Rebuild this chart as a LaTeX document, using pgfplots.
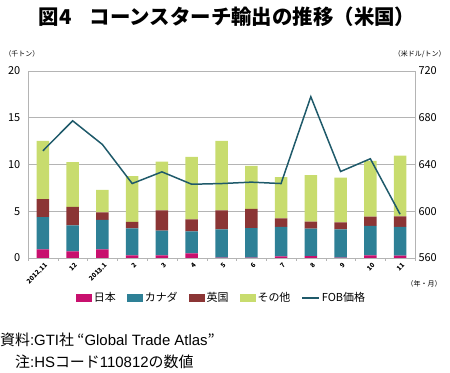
\documentclass[border=0pt]{standalone}
\usepackage{fontspec}
\setmainfont{Noto Sans CJK JP}
\newfontfamily\lib{Liberation Sans}
\usepackage{pgfplots}
\usepackage{pgfplotstable}
\pgfplotsset{compat=1.18}
\definecolor{jpc}{HTML}{C8106E}
\definecolor{cac}{HTML}{2E8096}
\definecolor{ukc}{HTML}{8B3535}
\definecolor{otc}{HTML}{C8DC6E}
\definecolor{fobc}{HTML}{1F5A6A}
\definecolor{gridc}{HTML}{B4B4B4}
\pgfplotstableread{
x jp ca uk ot fob
0 0.93 3.43 1.93 6.25 651.7
1 0.71 2.79 1.96 4.79 677.4
2 0.93 3.14 0.82 2.40 657.1
3 0.29 2.89 0.68 4.89 623.7
4 0.29 2.64 2.17 5.22 633.7
5 0.50 2.36 1.28 6.68 623.1
6 0.04 3.03 2.03 7.44 623.7
7 0.05 3.15 2.05 4.61 624.9
8 0.18 3.14 0.93 4.39 623.7
9 0.20 2.94 0.75 4.97 698.0
10 0.05 3.02 0.75 4.78 634.0
11 0.29 3.14 1.00 5.96 644.9
12 0.25 3.07 1.14 6.50 597.4
}\data
\begin{document}
\begin{tikzpicture}
\useasboundingbox (0bp,0bp) rectangle (450bp,373bp);
\node[font=\fontsize{20.5}{24}\selectfont\bfseries] at (227bp,356bp) {図4\hspace{0.9em}コーンスターチ輸出の推移（米国）};
\node[font=\fontsize{7}{8}\selectfont, anchor=west] at (1bp,319bp) {（千トン）};
\node[font=\fontsize{7}{8}\selectfont, anchor=east] at (449bp,319bp) {（米ドル/トン）};
\node[font=\fontsize{7}{8}\selectfont, anchor=east] at (445bp,89bp) {（年・月）};
\node[font=\fontsize{15}{17}\selectfont, anchor=west, inner sep=0pt] at (0bp,33bp) {資料{\lib:GTI}社 “{\lib Global Trade Atlas}”};
\node[font=\fontsize{15}{17}\selectfont, anchor=west, inner sep=0pt] at (15bp,11bp) {注{\lib:HS}コード{\lib 110812}の数値};
\begin{axis}[
  at={(28bp,115bp)}, anchor=south west,
  scale only axis, width=387bp, height=187bp,
  xmin=-0.5, xmax=12.5, ymin=0, ymax=20,
  ybar stacked, bar width=12.5bp,
  axis x line*=bottom, axis y line*=left,
  axis line style={gridc},
  ytick={0,5,10,15,20},
  ymajorgrids, grid style={gridc, line width=0.6pt},
  xtick={0,...,12},
  xticklabels={2012.11,12,2013.1,2,3,4,5,6,7,8,9,10,11},
  major x tick style={draw=none},
  minor xtick={-0.5,0.5,...,12.5},
  minor x tick style={gridc},
  minor tick length=3bp,
  tick align=outside,
  major y tick style={draw=none},
  xticklabel style={rotate=45, anchor=north east, font=\fontsize{6.5}{7}\selectfont\bfseries, inner sep=1pt, xshift=2bp},
  yticklabel style={font=\fontsize{11}{12}\selectfont},
  /pgf/number format/assume math mode=true,
  legend style={at={(0.5,-0.214)}, anchor=center, draw=none, fill=none,
    legend columns=-1, font=\fontsize{11}{12}\selectfont,
    /tikz/every even column/.append style={column sep=9bp}},
  legend image code/.code={\fill[#1] (0bp,-4bp) rectangle (16bp,4bp);},
]
\addplot[fill=jpc, draw=none] table[x=x, y=jp] {\data};
\addlegendentry{日本}
\addplot[fill=cac, draw=none] table[x=x, y=ca] {\data};
\addlegendentry{カナダ}
\addplot[fill=ukc, draw=none] table[x=x, y=uk] {\data};
\addlegendentry{英国}
\addplot[fill=otc, draw=none] table[x=x, y=ot] {\data};
\addlegendentry{その他}
\addlegendimage{legend image code/.code={\draw[fobc, line width=1.5pt] (0bp,0bp) -- (17bp,0bp);}}
\addlegendentry{FOB価格}
\end{axis}
\begin{axis}[
  at={(28bp,115bp)}, anchor=south west,
  scale only axis, width=387bp, height=187bp,
  xmin=-0.5, xmax=12.5, ymin=560, ymax=720,
  axis x line=none, axis y line*=right,
  axis line style={gridc},
  ytick={560,600,...,720},
  major y tick style={draw=none},
  yticklabel style={font=\fontsize{11}{12}\selectfont},
  /pgf/number format/assume math mode=true,
]
\addplot[fobc, line width=1.5pt, mark=none] table[x=x, y=fob] {\data};
\end{axis}
\end{tikzpicture}
\end{document}
